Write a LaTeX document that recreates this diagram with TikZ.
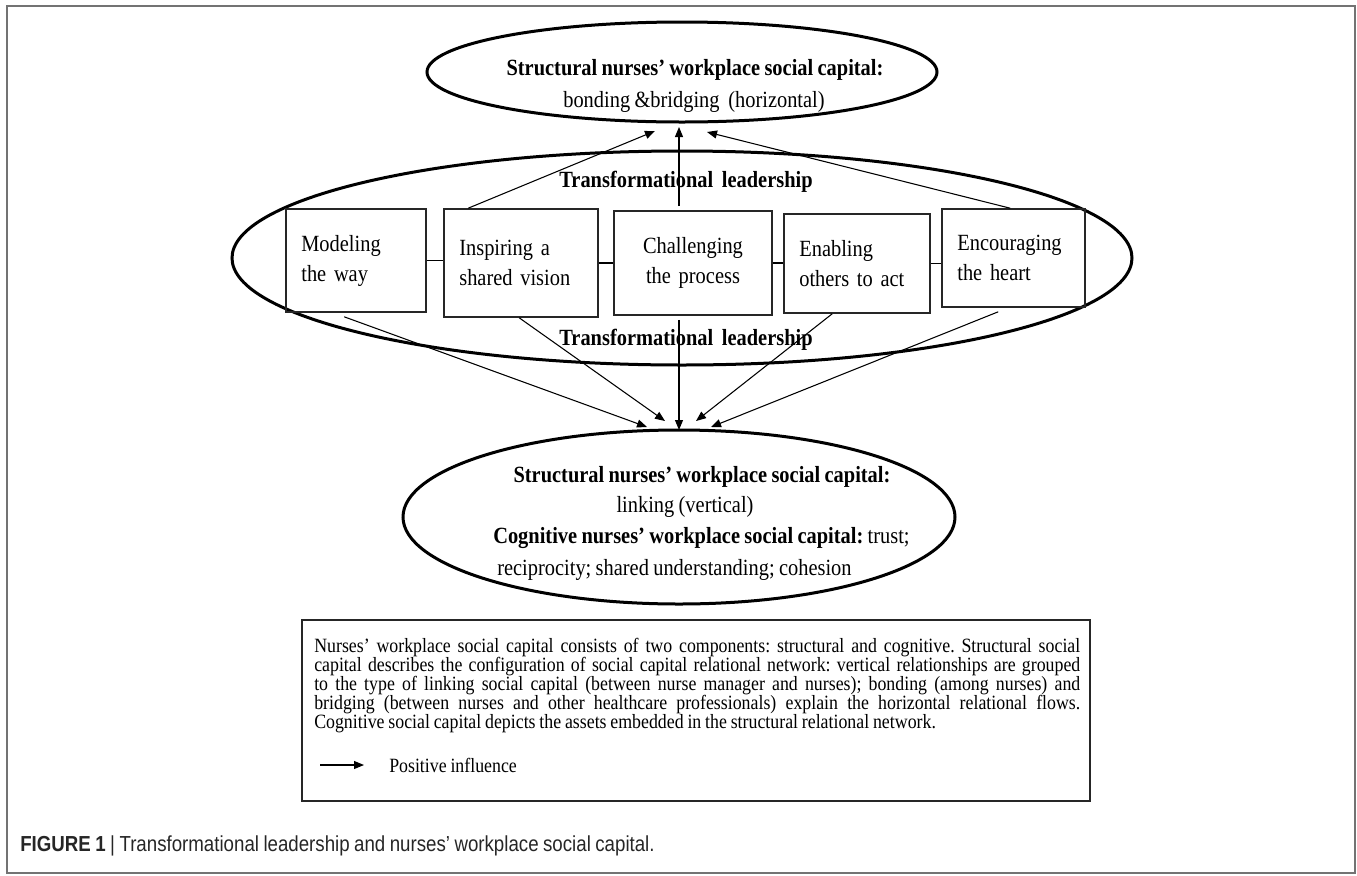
\documentclass[tikz,border=0pt]{standalone}
\usepackage{fontspec}
\setmainfont[FakeStretch=0.88,WordSpace=0.85]{Liberation Serif}
\setsansfont[FakeStretch=0.86,WordSpace=0.86]{Liberation Sans}
\usetikzlibrary{shapes.geometric,arrows.meta,calc}
\frenchspacing
\begin{document}
\begin{tikzpicture}[x=0.75pt,y=-0.75pt,
  ell/.style={draw, ellipse, line width=2.25pt, inner sep=0pt},
  box/.style={draw=black!85, line width=1.2pt, inner xsep=11.5pt, inner ysep=0pt, align=left,
    font=\fontsize{17.4}{22.5}\selectfont},
  lab/.style={inner sep=0pt, font=\fontsize{17.4}{18}\selectfont},
  blab/.style={inner sep=0pt, font=\fontsize{17.4}{18}\selectfont\bfseries},
  arr/.style={-{Triangle[length=7.5pt,width=6pt]}, line width=0.8pt},
  conn/.style={line width=0.8pt},
  frame/.style={draw=black!55, line width=1.5pt}]
\useasboundingbox (0,0) rectangle (1357,875);
\draw[frame] (7,6) rectangle (1355,873);

% ellipses
\node[ell, minimum width=382.5pt, minimum height=75pt] (top) at (682,72) {};
\node[ell, minimum width=675pt, minimum height=160.5pt] (mid) at (682,258) {};
\node[ell, minimum width=414pt, minimum height=130.5pt] (bot) at (679,517) {};

% top ellipse text
\node[blab] (toph) at (695,70) {Structural nurses’ workplace social capital:};
\node[lab] (topt) at (694,102) {bonding \&bridging\ \ (horizontal)};

% transformational leadership labels
\node[blab] (tl1) at (686,182) {Transformational\ \ leadership};
\node[blab] (tl2) at (686,340) {Transformational\ \ leadership};

% boxes
\node[box, text width=82pt, minimum height=77.25pt] (b1) at (356,260.5) {Modeling\\the way};
\node[box, text width=92.5pt, minimum height=81pt] (b2) at (521,263) {Inspiring a\\shared vision};
\node[box, text width=95.5pt, minimum height=78pt, align=center] (b3) at (693,263) {Challenging\\the process};
\node[box, text width=86.5pt, minimum height=74.25pt] (b4) at (857,263.5) {Enabling\\others to act};
\node[box, text width=84.25pt, minimum height=73.5pt] (b5) at (1013.5,258) {Encouraging\\the heart};

\draw[conn] (b1.east) -- (b1.east -| b2.west);
\draw[conn] (b2.east) -- (b2.east -| b3.west);
\draw[conn] (b3.east) -- (b3.east -| b4.west);
\draw[conn] (b4.east) -- (b4.east -| b5.west);

% arrows to top ellipse
\coordinate (t1) at (655,131);
\coordinate (t2) at (679,127);
\coordinate (t3) at (707,132);
\draw[arr] ($(b2.north west)+(25,0)$) -- (t1);
\draw[arr] ($(b3.north -| t2)+(0,-4)$) -- (t2);
\draw[arr] ($(b5.north west)+(69,0)$) -- (t3);

% arrows to bottom ellipse
\coordinate (u1) at (647,427);
\coordinate (u2) at (665,421);
\coordinate (u3) at (679,430);
\coordinate (u4) at (696,421);
\coordinate (u5) at (711,427);
\draw[arr] ($(b1.south west)+(59,4)$) -- (u1);
\draw[arr] ($(b2.south west)+(76,0)$) -- (u2);
\draw[arr] ($(b3.south -| u3)+(0,4)$) -- (u3);
\draw[arr] ($(b4.south west)+(49,0)$) -- (u4);
\draw[arr] ($(b5.south west)+(57,4)$) -- (u5);

% bottom ellipse text
\node[blab] (bh) at (702,477) {Structural nurses’ workplace social capital:};
\node[lab] (bl) at (685,507) {linking (vertical)};
\node[lab, anchor=west] (bc) at (493,538) {\textbf{Cognitive nurses’ workplace social capital:} trust;};
\node[lab, anchor=west] (br) at (497,570) {reciprocity; shared understanding; cohesion};

% explanation box
\node[draw=black!85, line width=1.2pt, minimum width=591pt, minimum height=135.75pt, inner sep=0pt] (pbox) at (696,710.5) {};
\node[anchor=north west, inner sep=0pt, text width=574.5pt, align=justify,
  font=\fontsize{15.2}{14.3}\selectfont] (ptext) at (314,638)
  {Nurses’ workplace social capital consists of two components: structural and cognitive. Structural social\linebreak
   capital describes the configuration of social capital relational network: vertical relationships are grouped\linebreak
   to the type of linking social capital (between nurse manager and nurses); bonding (among nurses) and\linebreak
   bridging (between nurses and other healthcare professionals) explain the horizontal relational flows.\linebreak
   Cognitive social capital depicts the assets embedded in the structural relational network.};
\coordinate (la) at (320,765);
\node[anchor=west, inner sep=0pt, font=\fontsize{15.2}{15}\selectfont] (legt) at (389,765) {Positive influence};
\draw[arr] (la) -- ($(legt.west)+(-25,0)$);

% caption
\node[anchor=west, inner sep=0pt, font=\sffamily\fontsize{16.3}{18}\selectfont, text=black!85] (cap) at (20,846)
  {\textbf{FIGURE 1} | Transformational leadership and nurses’ workplace social capital.};
\end{tikzpicture}
\end{document}
